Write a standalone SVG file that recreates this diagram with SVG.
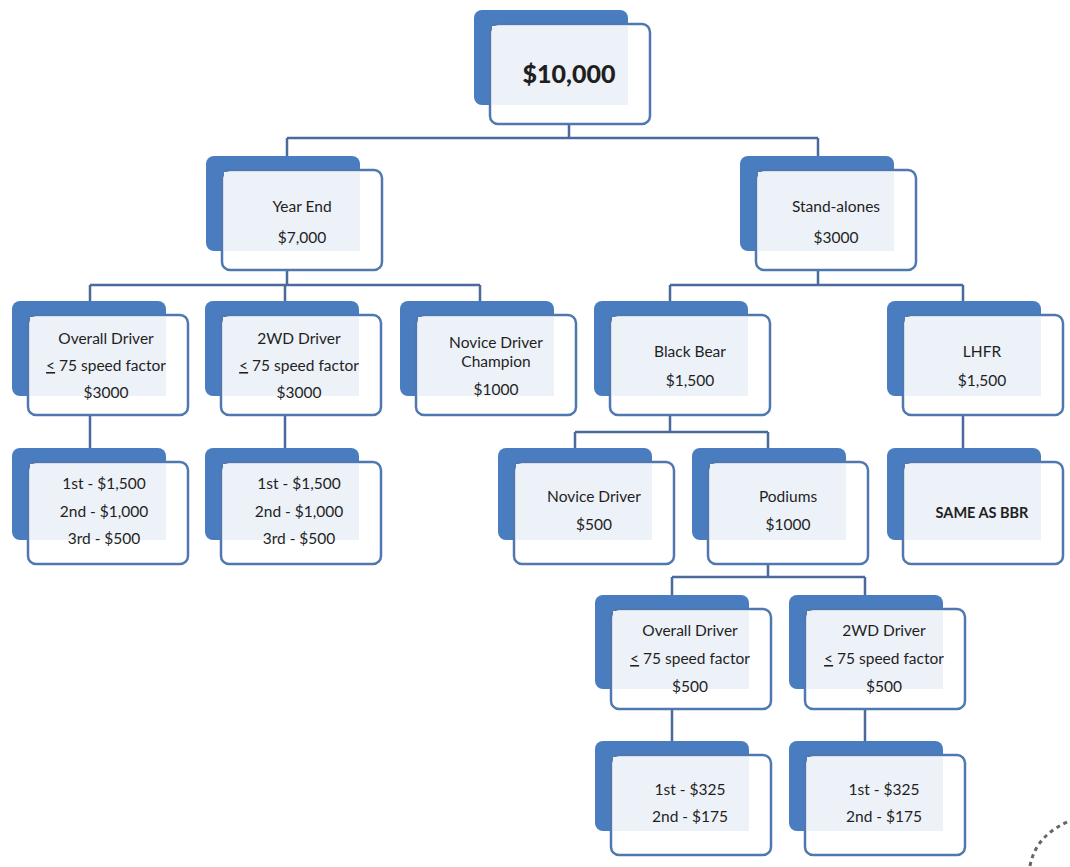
<svg xmlns="http://www.w3.org/2000/svg" width="1070" height="867" viewBox="0 0 1070 867">
<style>
.bk{fill:#4a7dc0;}
.fr{fill:#ffffff;stroke:#4f78b0;stroke-width:2.5;}
.in{fill:#edf1f8;}
.t{font-family:Lato,"Open Sans","Liberation Sans",sans-serif;font-size:15.5px;fill:#1f1f1f;text-anchor:middle;}
.b{font-weight:bold;}
.c{fill:none;stroke:#4a6a9c;stroke-width:2.5;}
</style>
<rect width="1070" height="867" fill="#ffffff"/>
<g id="connectors">
<path class="c" d="M569,124V138M287,138H818M287,138V156M818,138V156"/>
<path class="c" d="M287,270V285M90,285H480M90,285V301M285,285V301M480,285V301"/>
<path class="c" d="M818,270V285M670,285H963M670,285V301M963,285V301"/>
<path class="c" d="M90,415V448M285,415V448"/>
<path class="c" d="M670,415V432M575,432H768M575,432V448M768,432V448"/>
<path class="c" d="M963,415V448"/>
<path class="c" d="M768,563V577M672,577H865M672,577V595M865,577V595"/>
<path class="c" d="M672,709V741M865,709V741"/>
</g>
<g id="n-top">
<rect class="bk" x="474" y="10" width="154" height="95" rx="8"/>
<rect class="fr" x="490" y="24" width="160" height="100" rx="8"/>
<rect class="in" x="492" y="26" width="136" height="79"/>
<text class="t b" x="569" y="83" style="font-size:25px;font-weight:900">$10,000</text>
</g>
<g id="n-yearend">
<rect class="bk" x="206" y="156" width="154" height="95" rx="8"/>
<rect class="fr" x="222" y="170" width="160" height="100" rx="8"/>
<rect class="in" x="224" y="172" width="136" height="79"/>
<text class="t" x="302" y="212">Year End</text>
<text class="t" x="302" y="243">$7,000</text>
</g>
<g id="n-standalones">
<rect class="bk" x="740" y="156" width="154" height="95" rx="8"/>
<rect class="fr" x="756" y="170" width="160" height="100" rx="8"/>
<rect class="in" x="758" y="172" width="136" height="79"/>
<text class="t" x="836" y="212">Stand-alones</text>
<text class="t" x="836" y="243">$3000</text>
</g>
<g id="n-overall1">
<rect class="bk" x="12" y="301" width="154" height="95" rx="8"/>
<rect class="fr" x="28" y="315" width="160" height="100" rx="8"/>
<rect class="in" x="30" y="317" width="136" height="79"/>
<text class="t" x="106" y="344">Overall Driver</text>
<text class="t" x="106" y="371"><tspan text-decoration="underline">&lt;</tspan> 75 speed factor</text>
<text class="t" x="106" y="398">$3000</text>
</g>
<g id="n-2wd1">
<rect class="bk" x="205" y="301" width="154" height="95" rx="8"/>
<rect class="fr" x="221" y="315" width="160" height="100" rx="8"/>
<rect class="in" x="223" y="317" width="136" height="79"/>
<text class="t" x="299" y="344">2WD Driver</text>
<text class="t" x="299" y="371"><tspan text-decoration="underline">&lt;</tspan> 75 speed factor</text>
<text class="t" x="299" y="398">$3000</text>
</g>
<g id="n-novicechamp">
<rect class="bk" x="400" y="301" width="154" height="95" rx="8"/>
<rect class="fr" x="416" y="315" width="160" height="100" rx="8"/>
<rect class="in" x="418" y="317" width="136" height="79"/>
<text class="t" x="496" y="348">Novice Driver</text>
<text class="t" x="496" y="367">Champion</text>
<text class="t" x="496" y="395">$1000</text>
</g>
<g id="n-blackbear">
<rect class="bk" x="594" y="301" width="154" height="95" rx="8"/>
<rect class="fr" x="610" y="315" width="160" height="100" rx="8"/>
<rect class="in" x="612" y="317" width="136" height="79"/>
<text class="t" x="690" y="357">Black Bear</text>
<text class="t" x="690" y="386">$1,500</text>
</g>
<g id="n-lhfr">
<rect class="bk" x="887" y="301" width="154" height="95" rx="8"/>
<rect class="fr" x="903" y="315" width="160" height="100" rx="8"/>
<rect class="in" x="905" y="317" width="136" height="79"/>
<text class="t" x="982" y="357">LHFR</text>
<text class="t" x="982" y="386">$1,500</text>
</g>
<g id="n-ye-prizes1">
<rect class="bk" x="12" y="448" width="154" height="92" rx="8"/>
<rect class="fr" x="28" y="462" width="160" height="102" rx="8"/>
<rect class="in" x="30" y="464" width="136" height="76"/>
<text class="t" x="104" y="489">1st - $1,500</text>
<text class="t" x="104" y="517">2nd - $1,000</text>
<text class="t" x="104" y="544">3rd - $500</text>
</g>
<g id="n-ye-prizes2">
<rect class="bk" x="205" y="448" width="154" height="92" rx="8"/>
<rect class="fr" x="221" y="462" width="160" height="102" rx="8"/>
<rect class="in" x="223" y="464" width="136" height="76"/>
<text class="t" x="299" y="489">1st - $1,500</text>
<text class="t" x="299" y="517">2nd - $1,000</text>
<text class="t" x="299" y="544">3rd - $500</text>
</g>
<g id="n-novicedriver">
<rect class="bk" x="498" y="448" width="154" height="92" rx="8"/>
<rect class="fr" x="514" y="462" width="160" height="102" rx="8"/>
<rect class="in" x="516" y="464" width="136" height="76"/>
<text class="t" x="594" y="502">Novice Driver</text>
<text class="t" x="594" y="530">$500</text>
</g>
<g id="n-podiums">
<rect class="bk" x="692" y="448" width="154" height="92" rx="8"/>
<rect class="fr" x="708" y="462" width="160" height="102" rx="8"/>
<rect class="in" x="710" y="464" width="136" height="76"/>
<text class="t" x="788" y="502">Podiums</text>
<text class="t" x="788" y="530">$1000</text>
</g>
<g id="n-sameasbbr">
<rect class="bk" x="887" y="448" width="154" height="92" rx="8"/>
<rect class="fr" x="903" y="462" width="160" height="102" rx="8"/>
<rect class="in" x="905" y="464" width="136" height="76"/>
<text class="t b" x="982" y="518" style="font-size:14.5px">SAME AS BBR</text>
</g>
<g id="n-overall2">
<rect class="bk" x="595" y="595" width="154" height="94" rx="8"/>
<rect class="fr" x="611" y="609" width="160" height="100" rx="8"/>
<rect class="in" x="613" y="611" width="136" height="78"/>
<text class="t" x="690" y="636">Overall Driver</text>
<text class="t" x="690" y="664"><tspan text-decoration="underline">&lt;</tspan> 75 speed factor</text>
<text class="t" x="690" y="692">$500</text>
</g>
<g id="n-2wd2">
<rect class="bk" x="789" y="595" width="154" height="94" rx="8"/>
<rect class="fr" x="805" y="609" width="160" height="100" rx="8"/>
<rect class="in" x="807" y="611" width="136" height="78"/>
<text class="t" x="884" y="636">2WD Driver</text>
<text class="t" x="884" y="664"><tspan text-decoration="underline">&lt;</tspan> 75 speed factor</text>
<text class="t" x="884" y="692">$500</text>
</g>
<g id="n-pod-prizes1">
<rect class="bk" x="595" y="741" width="154" height="90" rx="8"/>
<rect class="fr" x="611" y="755" width="160" height="100" rx="8"/>
<rect class="in" x="613" y="757" width="136" height="74"/>
<text class="t" x="690" y="795">1st - $325</text>
<text class="t" x="690" y="822">2nd - $175</text>
</g>
<g id="n-pod-prizes2">
<rect class="bk" x="789" y="741" width="154" height="90" rx="8"/>
<rect class="fr" x="805" y="755" width="160" height="100" rx="8"/>
<rect class="in" x="807" y="757" width="136" height="74"/>
<text class="t" x="884" y="795">1st - $325</text>
<text class="t" x="884" y="822">2nd - $175</text>
</g>
<path d="M1030,866 Q1036,834 1072,820" fill="none" stroke="#666" stroke-width="3" stroke-dasharray="4 4"/>
</svg>
